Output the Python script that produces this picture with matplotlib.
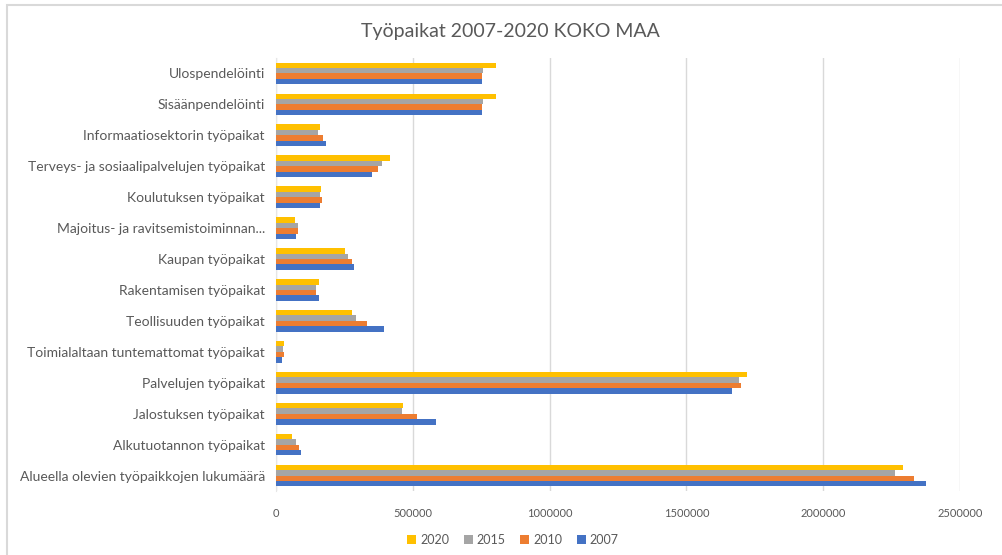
import matplotlib.pyplot as plt
import numpy as np
from matplotlib.patches import Rectangle

plt.rcParams['font.family'] = ['Lato', 'DejaVu Sans']

# Categories from top to bottom
categories = [
    'Ulospendelöinti',
    'Sisäänpendelöinti',
    'Informaatiosektorin työpaikat',
    'Terveys- ja sosiaalipalvelujen työpaikat',
    'Koulutuksen työpaikat',
    'Majoitus- ja ravitsemistoiminnan...',
    'Kaupan työpaikat',
    'Rakentamisen työpaikat',
    'Teollisuuden työpaikat',
    'Toimialaltaan tuntemattomat työpaikat',
    'Palvelujen työpaikat',
    'Jalostuksen työpaikat',
    'Alkutuotannon työpaikat',
    'Alueella olevien työpaikkojen lukumäärä',
]

v2020 = [804000, 804000, 161000, 417000, 165000, 70000, 252000, 158000, 277000, 30000, 1722000, 466000, 57000, 2292000]
v2015 = [757000, 758000, 155000, 386000, 161000, 80000, 262000, 145000, 291000, 26000, 1693000, 460000, 72000, 2263000]
v2010 = [752000, 752000, 173000, 371000, 168000, 79000, 279000, 147000, 334000, 28000, 1699000, 515000, 84000, 2332000]
v2007 = [754000, 754000, 183000, 352000, 162000, 73000, 285000, 156000, 396000, 22000, 1665000, 584000, 93000, 2375000]

series = [('2020', v2020, '#FFC000'),
          ('2015', v2015, '#A5A5A5'),
          ('2010', v2010, '#ED7D31'),
          ('2007', v2007, '#4472C4')]

fig = plt.figure(figsize=(10.03, 5.55), dpi=100)
ax = fig.add_axes([276 / 1003, 1 - 491 / 555, (960 - 276) / 1003, (491 - 58) / 555])

# chart area border
fig.patches.append(Rectangle((7 / 1003, -0.1), 1.2, 1 - 5 / 555 + 0.1, transform=fig.transFigure,
                             fill=False, edgecolor='#d9d9d9', linewidth=1.5))

y = np.arange(len(categories))
h = 0.175
for i, (name, vals, col) in enumerate(series):
    ax.barh(y - 1.5 * h + i * h, vals, height=h, color=col, label=name, zorder=3)

ax.set_yticks(y)
ax.set_yticklabels(categories, fontsize=10, color='#595959')
ax.set_ylim(len(categories) - 0.5, -0.5)
ax.set_xlim(0, 2500000)
ax.set_xticks(np.arange(0, 2500001, 500000))
ax.set_xticklabels([str(t) for t in range(0, 2500001, 500000)], fontsize=8, color='#595959')
ax.tick_params(axis='both', length=0)
ax.tick_params(axis='x', pad=12)
ax.tick_params(axis='y', pad=8)
ax.grid(axis='x', color='#d9d9d9', linewidth=1, zorder=0)
for s in ['top', 'right', 'bottom']:
    ax.spines[s].set_visible(False)
ax.spines['left'].set_color('#e6e6e6')

fig.text(510 / 1003, 1 - 31 / 555, 'Työpaikat 2007-2020 KOKO MAA', ha='center', va='center',
         fontsize=14, color='#595959')

fig.legend(loc='center', bbox_to_anchor=(513 / 1003, 1 - 540 / 555), ncol=4, frameon=False,
           fontsize=9, handlelength=0.7, handleheight=0.7, handletextpad=0.3, columnspacing=1.2,
           labelcolor='#595959')

fig.savefig('out.png', dpi=100)
